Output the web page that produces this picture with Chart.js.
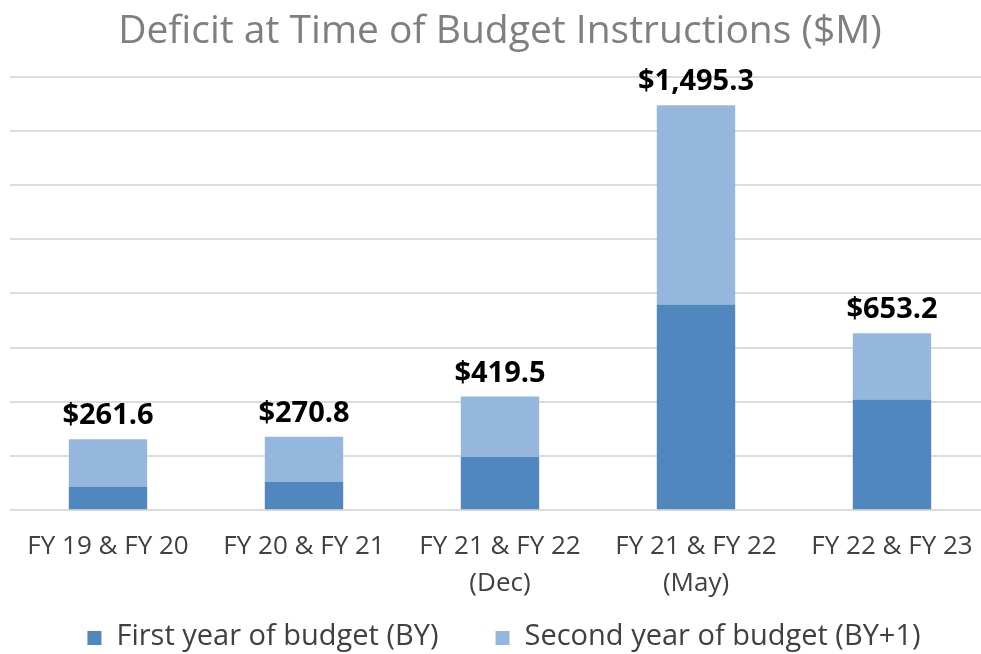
<!DOCTYPE html>
<html>
<head>
<meta charset="utf-8">
<script src="https://cdn.jsdelivr.net/npm/chart.js@4"></script>
<style>
html,body{margin:0;padding:0;background:#fff;overflow:hidden;}
#wrap{position:absolute;left:0;top:0;width:1000px;height:654px;}
</style>
</head>
<body>
<div id="wrap"><canvas id="c" width="1000" height="654"></canvas></div>
<script>
const categories = [["FY 19 & FY 20"], ["FY 20 & FY 21"], ["FY 21 & FY 22", "(Dec)"], ["FY 21 & FY 22", "(May)"], ["FY 22 & FY 23"]];
const firstYear = [86, 105, 196, 759, 409];
const secondYear = [175.6, 165.8, 223.5, 736.3, 244.2];
const totalLabels = ["$261.6", "$270.8", "$419.5", "$1,495.3", "$653.2"];
const seriesNames = ["First year of budget (BY)", "Second year of budget (BY+1)"];
const yTicks = [0, 200, 400, 600, 800, 1000, 1200, 1400, 1600];

const FONT = "'Open Sans', sans-serif";

const totalsPlugin = {
  id: 'totals',
  afterDatasetsDraw(chart) {
    const ctx = chart.ctx;
    const y = chart.scales.y;
    const meta = chart.getDatasetMeta(1);
    ctx.save();
    ctx.font = "bold 29px " + FONT;
    ctx.fillStyle = '#000';
    ctx.textAlign = 'center';
    ctx.textBaseline = 'alphabetic';
    meta.data.forEach((bar, i) => {
      const total = firstYear[i] + secondYear[i];
      ctx.fillText(totalLabels[i], bar.x, y.getPixelForValue(total) - 15);
    });
    ctx.restore();
  }
};

// legend drawn below the axis labels, in the space reserved by layout padding
const legendPlugin = {
  id: 'customLegend',
  afterDraw(chart) {
    const ctx = chart.ctx;
    const box = 14, gap = 15, spacing = 57;
    ctx.save();
    ctx.font = "29px " + FONT;
    const items = chart.data.datasets.map(ds => ({ text: ds.label, color: ds.backgroundColor, w: ctx.measureText(ds.label).width }));
    const total = items.reduce((s, it) => s + box + gap + it.w, 0) + spacing * (items.length - 1);
    const cx = (chart.chartArea.left + chart.chartArea.right) / 2 + 4;
    const cy = chart.height - 17;
    let x = cx - total / 2;
    ctx.textBaseline = 'middle';
    ctx.textAlign = 'left';
    items.forEach(it => {
      ctx.fillStyle = it.color;
      ctx.fillRect(x, cy - box / 2 + 1, box, box);
      x += box + gap;
      ctx.fillStyle = '#404040';
      ctx.fillText(it.text, x, cy);
      x += it.w + spacing;
    });
    ctx.restore();
  }
};

new Chart(document.getElementById('c'), {
  type: 'bar',
  data: {
    labels: categories,
    datasets: [
      { label: seriesNames[0], data: firstYear, backgroundColor: '#4f87be' },
      { label: seriesNames[1], data: secondYear, backgroundColor: '#96b7dd' }
    ]
  },
  options: {
    responsive: false,
    animation: false,
    layout: { padding: { left: 10, right: 10, top: 6, bottom: 34 } },
    datasets: { bar: { barPercentage: 0.4, categoryPercentage: 1.0 } },
    plugins: {
      title: {
        display: true,
        text: 'Deficit at Time of Budget Instructions ($M)',
        color: '#7f7f7f',
        font: { family: FONT, size: 39, weight: 'normal' },
        padding: { top: 2, bottom: 22 }
      },
      legend: { display: false },
      tooltip: { enabled: false }
    },
    scales: {
      x: {
        stacked: true,
        grid: { display: false, drawTicks: false },
        border: { display: false },
        ticks: { color: '#404040', font: { family: FONT, size: 26, lineHeight: 1.42 }, maxRotation: 0, padding: 18 }
      },
      y: {
        stacked: true,
        min: 0, max: 1600,
        afterBuildTicks(scale) { scale.ticks = yTicks.map(v => ({ value: v })); },
        ticks: { display: false },
        grid: { color: '#dcdcdc', lineWidth: 2, drawTicks: false },
        border: { display: false }
      }
    }
  },
  plugins: [totalsPlugin, legendPlugin]
});
</script>
</body>
</html>
